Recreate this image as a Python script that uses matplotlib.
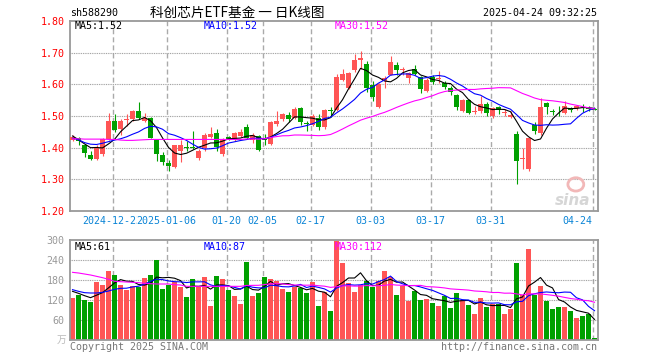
import numpy as np
import pandas as pd
import matplotlib
matplotlib.use("Agg")
import matplotlib.pyplot as plt
from matplotlib.patches import Ellipse

plt.rcParams['font.family'] = ['DejaVu Sans Mono', 'Noto Sans CJK SC']

# daily K-line, 2024-12-12 .. 2025-04-24 (88 trading days)
opens = [1.425, 1.43, 1.41, 1.376, 1.365, 1.38, 1.427, 1.483, 1.46, 1.486,
         1.49, 1.517, 1.485, 1.495, 1.423, 1.377, 1.353, 1.34, 1.391, 1.402,
         1.401, 1.367, 1.398, 1.435, 1.446, 1.38, 1.433, 1.425, 1.438, 1.465,
         1.425, 1.436, 1.428, 1.412, 1.476, 1.49, 1.504, 1.494, 1.525, 1.477,
         1.473, 1.494, 1.465, 1.52, 1.52, 1.614, 1.59, 1.645, 1.676, 1.663,
         1.598, 1.53, 1.61, 1.631, 1.66, 1.644, 1.619, 1.648, 1.624, 1.58,
         1.623, 1.618, 1.603, 1.587, 1.567, 1.517, 1.551, 1.513, 1.517, 1.539,
         1.499, 1.527, 1.509, 1.497, 1.442, 1.364, 1.332, 1.47, 1.447, 1.54,
         1.516, 1.526, 1.511, 1.525, 1.525, 1.529, 1.526, 1.523]
highs = [1.44, 1.435, 1.412, 1.39, 1.41, 1.43, 1.51, 1.507, 1.49, 1.505,
         1.52, 1.543, 1.51, 1.497, 1.425, 1.385, 1.36, 1.41, 1.425, 1.42,
         1.453, 1.395, 1.446, 1.465, 1.459, 1.43, 1.437, 1.45, 1.46, 1.475,
         1.445, 1.44, 1.444, 1.485, 1.515, 1.51, 1.514, 1.527, 1.527, 1.485,
         1.505, 1.506, 1.522, 1.528, 1.634, 1.648, 1.64, 1.697, 1.704, 1.673,
         1.61, 1.605, 1.627, 1.69, 1.671, 1.655, 1.64, 1.662, 1.627, 1.62,
         1.628, 1.642, 1.612, 1.595, 1.57, 1.555, 1.555, 1.532, 1.564, 1.545,
         1.53, 1.532, 1.522, 1.517, 1.454, 1.398, 1.435, 1.481, 1.556, 1.545,
         1.522, 1.532, 1.546, 1.53, 1.535, 1.537, 1.532, 1.525]
lows = [1.42, 1.41, 1.37, 1.36, 1.36, 1.375, 1.425, 1.448, 1.44, 1.47,
        1.485, 1.49, 1.48, 1.43, 1.357, 1.344, 1.327, 1.335, 1.356, 1.39,
        1.395, 1.362, 1.39, 1.43, 1.39, 1.375, 1.425, 1.42, 1.435, 1.428,
        1.416, 1.39, 1.41, 1.408, 1.47, 1.485, 1.48, 1.49, 1.473, 1.452,
        1.47, 1.455, 1.46, 1.496, 1.515, 1.61, 1.585, 1.64, 1.65, 1.577,
        1.546, 1.525, 1.587, 1.628, 1.631, 1.63, 1.605, 1.63, 1.572, 1.577,
        1.60, 1.603, 1.585, 1.567, 1.52, 1.513, 1.505, 1.507, 1.51, 1.50,
        1.495, 1.505, 1.50, 1.493, 1.285, 1.334, 1.327, 1.442, 1.44, 1.505,
        1.504, 1.499, 1.505, 1.512, 1.52, 1.514, 1.515, 1.518]
closes = [1.435, 1.42, 1.384, 1.364, 1.40, 1.428, 1.483, 1.456, 1.483, 1.489,
          1.517, 1.493, 1.495, 1.432, 1.38, 1.354, 1.343, 1.407, 1.408, 1.40,
          1.40, 1.391, 1.44, 1.443, 1.402, 1.427, 1.428, 1.446, 1.449, 1.43,
          1.44, 1.392, 1.425, 1.481, 1.485, 1.507, 1.49, 1.523, 1.48, 1.474,
          1.499, 1.465, 1.52, 1.516, 1.624, 1.632, 1.637, 1.676, 1.683, 1.59,
          1.561, 1.60, 1.619, 1.669, 1.645, 1.648, 1.637, 1.634, 1.584, 1.615,
          1.607, 1.621, 1.592, 1.577, 1.528, 1.551, 1.511, 1.517, 1.539, 1.509,
          1.525, 1.518, 1.512, 1.504, 1.358, 1.368, 1.431, 1.452, 1.528, 1.528,
          1.514, 1.524, 1.532, 1.518, 1.532, 1.527, 1.523, 1.52]
volumes = [126, 136, 121, 115, 174, 165, 207, 195, 165, 150,
           163, 159, 186, 195, 240, 153, 165, 174, 159, 129,
           183, 160, 189, 102, 192, 183, 150, 132, 108, 235,
           132, 141, 189, 183, 177, 153, 144, 159, 156, 141,
           174, 102, 144, 87, 297, 231, 171, 144, 165, 177,
           159, 177, 207, 189, 135, 162, 117, 147, 121, 123,
           111, 102, 132, 96, 141, 120, 105, 78, 126, 99,
           108, 108, 78, 93, 231, 135, 273, 136, 162, 117,
           93, 99, 99, 87, 66, 72, 78, 6]

# moving-average values for the first days (history before the window)
ma5_head = [1.437, 1.425, 1.412, 1.40]
ma10_head = [1.43, 1.425, 1.416, 1.411, 1.41, 1.414, 1.419, 1.424, 1.428]
ma30_head = [1.428, 1.428, 1.427, 1.427, 1.427, 1.427, 1.426, 1.426, 1.424, 1.423,
             1.423, 1.424, 1.425, 1.426, 1.426, 1.426, 1.426, 1.426, 1.426, 1.426,
             1.426, 1.426, 1.426, 1.426, 1.426, 1.426, 1.426, 1.426, 1.426]
vma5_head = [146, 140, 133, 127]
vma10_head = [151, 146, 142, 141, 141, 143, 147, 152, 155]
vma30_head = [203, 201, 198, 195, 191, 187, 182, 176, 175, 174,
              173, 172, 170, 169, 168, 168, 168, 166, 165, 161,
              161, 161, 161, 161, 161, 161, 161, 161, 161]

date_idx = [7, 16, 26, 32, 40, 50, 60, 70, 87]
date_labels = ["2024-12-23", "2025-01-06", "01-20", "02-05", "02-17",
               "03-03", "03-17", "03-31", "04-24"]
price_ticks = [1.20, 1.30, 1.40, 1.50, 1.60, 1.70, 1.80]
vol_ticks = [60, 120, 180, 240, 300]

RED = "#FF5555"
GREEN = "#00A000"
GRID = "#aaaaaa"
FRAME = "#999999"

def ma(values, n, head):
    s = pd.Series(values).rolling(n).mean().to_numpy()
    s[:len(head)] = head
    return s

W, H = 660, 360
fig = plt.figure(figsize=(6.6, 3.6), dpi=100)

def fx(px):
    return px / W

def fy(py):
    return 1 - py / H

ax = fig.add_axes([fx(70), fy(211), fx(528), 190 / H])
axv = fig.add_axes([fx(70), fy(340), fx(528), 100 / H])

n = len(closes)
x = np.arange(n)
o = np.array(opens); c = np.array(closes)
up = c >= o
colors = np.where(up, RED, GREEN)

for a in (ax, axv):
    a.set_xlim(-0.42, n - 1 + 0.58)
    for sp in a.spines.values():
        sp.set_color(FRAME)
        sp.set_linewidth(1.3)
    a.set_xticks([])
    a.tick_params(axis='y', length=0, pad=4)
    for i in date_idx:
        a.axvline(i - 0.3, color=GRID, lw=1.0, dashes=(3.6, 2.2), zorder=0)

# price panel
ax.set_ylim(1.20, 1.80)
ax.set_yticks(price_ticks)
ax.set_yticklabels([f"{t:.2f}" for t in price_ticks], color="#FF0000", fontsize=7.2)
for t in price_ticks[1:-1]:
    ax.axhline(t, color=FRAME, lw=0.8, dashes=(0.8, 0.8), zorder=0)

ax.vlines(x, lows, highs, colors=colors, lw=0.8, zorder=2)
body = np.maximum(np.abs(c - o), 0.0025)
ax.bar(x, body, bottom=np.minimum(o, c), width=0.8, color=colors, lw=0, zorder=3)

ax.plot(x, ma(closes, 5, ma5_head), color="black", lw=0.8, zorder=4)
ax.plot(x, ma(closes, 10, ma10_head), color="#0000FF", lw=0.8, zorder=4)
ax.plot(x, ma(closes, 30, ma30_head), color="#FF00FF", lw=0.8, zorder=4)

ax.text(fx(75), fy(26), "MA5:1.52", transform=fig.transFigure, color="black", fontsize=7.2, va='center')
ax.text(fx(204), fy(26), "MA10:1.52", transform=fig.transFigure, color="#0000FF", fontsize=7.2, va='center')
ax.text(fx(335), fy(26), "MA30:1.52", transform=fig.transFigure, color="#FF00FF", fontsize=7.2, va='center')

# date labels, later ones drawn over earlier ones
for i, lab in zip(date_idx, date_labels):
    ha = 'right' if i == n - 1 else 'center'
    ax.text(i - 0.3, -10 / 190, lab, transform=ax.get_xaxis_transform(), ha=ha, va='center',
            color="#0A84D6", fontsize=7.2,
            bbox=dict(boxstyle='square,pad=0', fc='white', ec='none'))

# sina watermark
ax.add_patch(Ellipse((0.958, 0.14), 0.03, 0.07, transform=ax.transAxes,
                     fc='none', ec="#f2b8b8", lw=2.0, zorder=1))
ax.text(0.985, 0.055, "sina", transform=ax.transAxes, ha='right', va='center',
        fontsize=11, fontweight='bold', style='italic', color="#d6d6d6",
        family='DejaVu Sans', zorder=1)

# volume panel
axv.set_ylim(0, 300)
axv.set_yticks(vol_ticks)
axv.set_yticklabels([str(t) for t in vol_ticks], color="#999999", fontsize=7.2)
for t in vol_ticks[:-1]:
    axv.axhline(t, color=FRAME, lw=0.8, dashes=(0.8, 0.8), zorder=0)
axv.bar(x, volumes, width=0.8, color=colors, lw=0, zorder=2)
axv.plot(x, ma(volumes, 5, vma5_head), color="black", lw=0.8, zorder=4)
axv.plot(x, ma(volumes, 10, vma10_head), color="#0000FF", lw=0.8, zorder=4)
axv.plot(x, ma(volumes, 30, vma30_head), color="#FF00FF", lw=0.8, zorder=4)

fig.text(fx(75), fy(247), "MA5:61", color="black", fontsize=7.2, va='center')
fig.text(fx(204), fy(247), "MA10:87", color="#0000FF", fontsize=7.2, va='center')
fig.text(fx(335), fy(247), "MA30:112", color="#FF00FF", fontsize=7.2, va='center')
fig.text(fx(66), fy(340), "万", color="#bbbbbb", fontsize=7, ha='right', va='center',
         family=['Noto Sans CJK SC'])

# header and footer
fig.text(fx(70), fy(13), "sh588290", color="black", fontsize=7.2, va='center')
fig.text(fx(150), fy(13), "科创芯片ETF基金 一 日K线图", color="black", fontsize=9.8,
         va='center', family=['Noto Sans CJK SC'])
fig.text(fx(597), fy(13), "2025-04-24 09:32:25", color="black", fontsize=7.2,
         ha='right', va='center')
fig.text(fx(70), fy(347), "Copyright 2025 SINA.COM", color="#777777", fontsize=7.2, va='center')
fig.text(fx(597), fy(347), "http://finance.sina.com.cn", color="#777777", fontsize=7.2,
         ha='right', va='center')

fig.savefig("out.png", dpi=100)
